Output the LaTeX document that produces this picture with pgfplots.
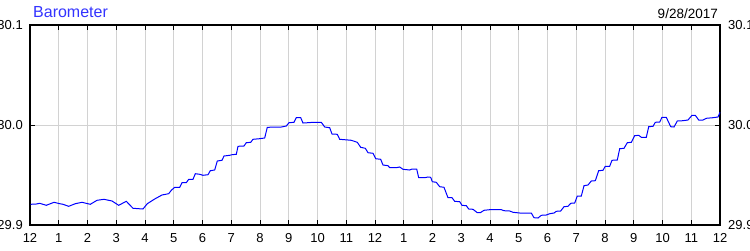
\documentclass[border=0pt]{standalone}
\usepackage{fontspec}
\setmainfont{Liberation Sans}
\usepackage{pgfplots}
\pgfplotsset{compat=1.18}
\definecolor{baroblue}{RGB}{0,0,255}
\definecolor{titleblue}{RGB}{51,51,255}
\definecolor{gridgray}{RGB}{210,210,210}
\begin{document}
\begin{tikzpicture}
\begin{axis}[
  at={(0pt,0pt)}, anchor=south west,
  scale only axis, width=690pt, height=200pt,
  xmin=0, xmax=24, ymin=29.9, ymax=30.1,
  xtick={0,1,...,24},
  xticklabels={12,1,2,3,4,5,6,7,8,9,10,11,12,1,2,3,4,5,6,7,8,9,10,11,12},
  ytick={29.9,30.0,30.1},
  yticklabels={29.9,30.0,30.1},
  xtick pos=both, ytick pos=both, xticklabel pos=lower, yticklabel pos=left,
  tick align=inside, major tick length=5pt,
  tick style={black, line width=1pt},
  xmajorgrids, ymajorgrids,
  grid style={gridgray, line width=1pt},
  axis line style={black, line width=1.3pt},
  /pgf/number format/assume math mode=true,
  tick label style={font=\fontsize{13}{15}\selectfont, inner sep=0pt},
  xticklabel style={anchor=north, yshift=-8pt},
  yticklabel style={anchor=east, xshift=-7pt},
  clip=false,
]
\addplot[baroblue, line width=1pt] table {
x y
0.024 29.9207
0.219 29.9210
0.337 29.9217
0.567 29.9197
0.835 29.9227
1.033 29.9213
1.148 29.9207
1.346 29.9187
1.576 29.9213
1.809 29.9227
2.097 29.9207
2.330 29.9247
2.574 29.9257
2.852 29.9240
3.085 29.9197
3.350 29.9237
3.583 29.9167
3.930 29.9160
4.080 29.9213
4.337 29.9260
4.591 29.9300
4.824 29.9313
4.915 29.9347
5.033 29.9377
5.207 29.9377
5.287 29.9423
5.437 29.9423
5.520 29.9457
5.670 29.9457
5.750 29.9513
5.903 29.9507
6.017 29.9497
6.191 29.9503
6.271 29.9543
6.424 29.9550
6.515 29.9640
6.678 29.9647
6.748 29.9690
6.946 29.9697
7.026 29.9703
7.176 29.9707
7.235 29.9787
7.443 29.9790
7.523 29.9823
7.677 29.9827
7.757 29.9857
7.990 29.9863
8.163 29.9870
8.254 29.9977
8.741 29.9980
8.915 29.9990
9.009 30.0023
9.183 30.0027
9.263 30.0073
9.416 30.0073
9.496 30.0020
9.670 30.0023
9.843 30.0027
10.132 30.0027
10.250 29.9980
10.424 29.9973
10.504 29.9910
10.689 29.9907
10.772 29.9857
10.946 29.9853
11.176 29.9847
11.384 29.9827
11.503 29.9777
11.663 29.9767
11.757 29.9723
11.930 29.9717
12.024 29.9663
12.198 29.9657
12.278 29.9600
12.452 29.9593
12.511 29.9573
12.741 29.9573
12.859 29.9580
12.974 29.9557
13.207 29.9550
13.287 29.9560
13.450 29.9560
13.520 29.9473
13.729 29.9473
13.843 29.9480
13.937 29.9477
13.993 29.9433
14.132 29.9427
14.250 29.9383
14.400 29.9377
14.480 29.9317
14.539 29.9273
14.678 29.9273
14.772 29.9237
14.946 29.9233
15.026 29.9197
15.176 29.9193
15.259 29.9160
15.409 29.9157
15.558 29.9123
15.663 29.9123
15.791 29.9147
15.990 29.9153
16.393 29.9153
16.487 29.9143
16.685 29.9140
16.800 29.9127
17.033 29.9120
17.437 29.9120
17.530 29.9073
17.670 29.9070
17.784 29.9097
17.958 29.9100
18.077 29.9113
18.226 29.9120
18.306 29.9137
18.459 29.9140
18.574 29.9183
18.713 29.9187
18.807 29.9217
18.946 29.9220
19.037 29.9290
19.176 29.9290
19.270 29.9393
19.409 29.9400
19.523 29.9440
19.663 29.9443
19.781 29.9543
19.930 29.9547
20.010 29.9587
20.163 29.9587
20.243 29.9647
20.428 29.9650
20.511 29.9763
20.661 29.9767
20.776 29.9823
20.915 29.9827
21.033 29.9893
21.172 29.9897
21.263 29.9877
21.437 29.9877
21.520 29.9983
21.670 29.9987
21.750 30.0027
21.903 30.0030
21.983 30.0077
22.132 30.0077
22.285 29.9983
22.400 29.9980
22.515 30.0040
22.713 30.0043
22.887 30.0050
23.026 30.0097
23.141 30.0097
23.259 30.0050
23.409 30.0050
23.523 30.0067
23.757 30.0073
23.930 30.0080
24.000 30.0127
};
\node[anchor=west, inner sep=0pt, xshift=8pt, font=\fontsize{13}{15}\selectfont] at (rel axis cs:1,0) {29.9};
\node[anchor=west, inner sep=0pt, xshift=8pt, font=\fontsize{13}{15}\selectfont] at (rel axis cs:1,0.5) {30.0};
\node[anchor=west, inner sep=0pt, xshift=8pt, font=\fontsize{13}{15}\selectfont] at (rel axis cs:1,1) {30.1};
\node[anchor=base west, inner sep=0pt, text=titleblue, font=\fontsize{16}{18}\selectfont] at ([xshift=3pt, yshift=7.7pt]rel axis cs:0,1) {Barometer};
\node[anchor=base east, inner sep=0pt, font=\fontsize{13.5}{16}\selectfont] at ([xshift=-2pt, yshift=7pt]rel axis cs:1,1) {9/28/2017};
\end{axis}
\pgfresetboundingbox
\useasboundingbox (-30pt,-25pt) rectangle (720pt,225pt);
\end{tikzpicture}
\end{document}
